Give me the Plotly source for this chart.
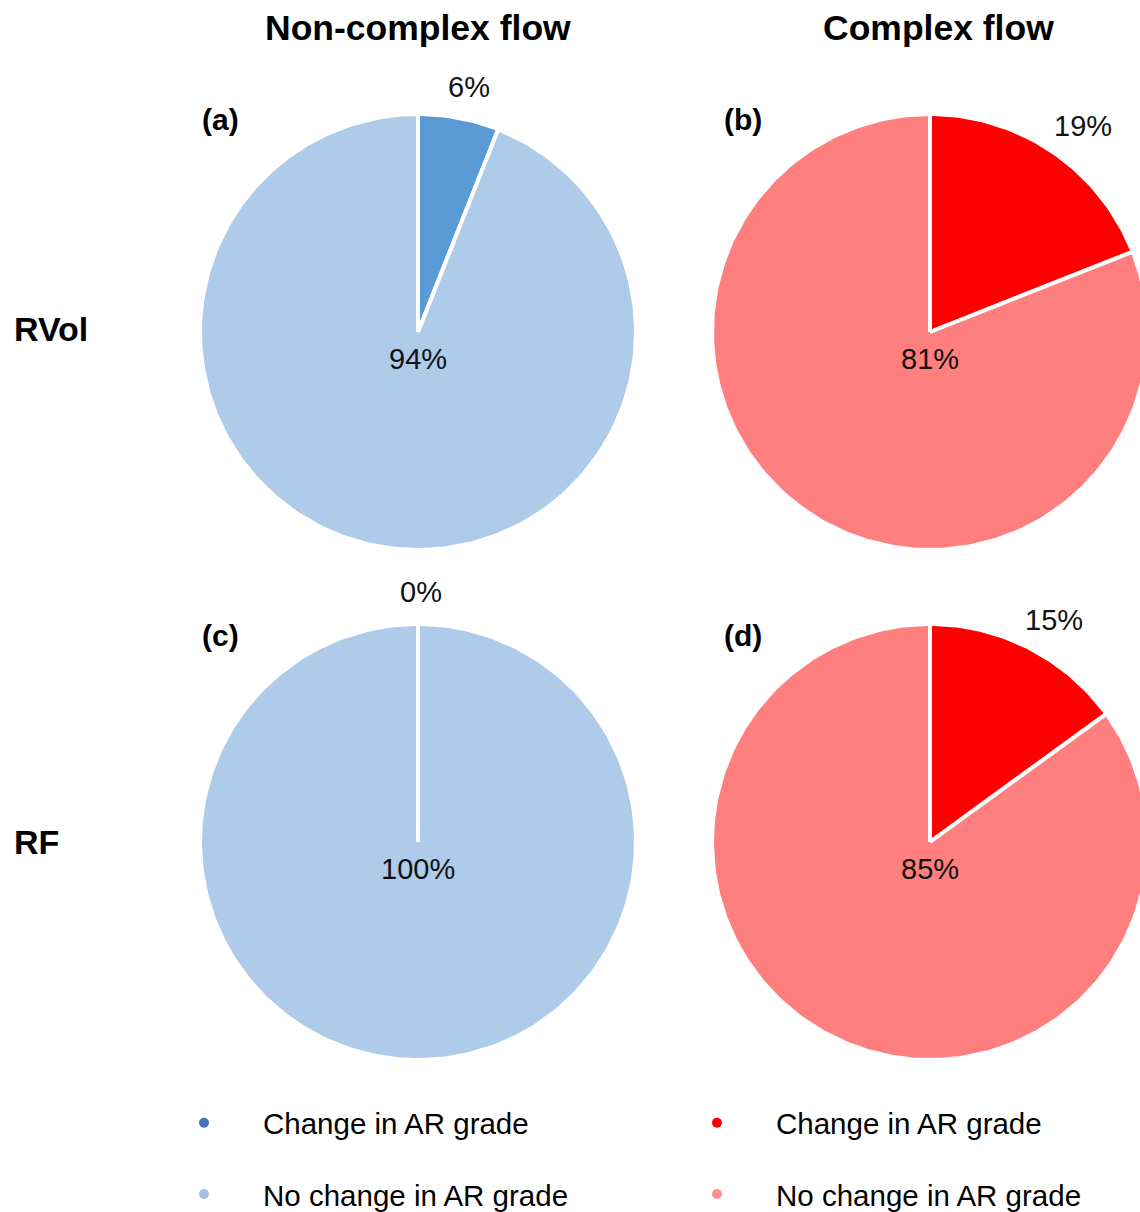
import numpy as np
import plotly.graph_objects as go

# ---- data -------------------------------------------------------------
col_titles = ["Non-complex flow", "Complex flow"]
row_titles = ["RVol", "RF"]
panel_tags = ["(a)", "(b)", "(c)", "(d)"]
categories = ["Change in AR grade", "No change in AR grade"]

# share of patients (%) per panel: [change in AR grade, no change]
rvol_noncomplex = [6, 94]
rvol_complex = [19, 81]
rf_noncomplex = [0, 100]
rf_complex = [15, 85]

# ---- styling ----------------------------------------------------------
FONT = "Arial, Liberation Sans, sans-serif"
W, H = 1140, 1212
R_PX = 216                       # axis unit in pixels
PIE_R = 1.0 + 2.0 / R_PX         # radius incl. half of the white outline
COL_X = [418, 930]               # pie centres (px from left)
ROW_Y = [332, 842]               # pie centres (px from top)
TAG_X = [220, 743]
TAG_Y = [120, 635]
slice_colors = [["#5B9BD5", "#AECBE9"], ["#FF0000", "#FF7F7F"]]
legend_colors = [["#4472C4", "#A9BDE6"], ["#FF0000", "#FF8C8C"]]
LABEL_SIZE = 29


def unit_x(px):
    return px / R_PX


def unit_y(py):
    return -py / R_PX


def text_width(s, size):
    widths = {"%": 0.889}
    return sum(widths.get(ch, 0.556) for ch in s) * size


panels = [
    (0, 0, rvol_noncomplex),
    (0, 1, rvol_complex),
    (1, 0, rf_noncomplex),
    (1, 1, rf_complex),
]

fig = go.Figure()
annotations = []

for idx, (r, c, values) in enumerate(panels):
    cx, cy = unit_x(COL_X[c]), unit_y(ROW_Y[r])
    total = float(sum(values))
    start = 0.0
    for k, v in enumerate(values):
        frac0, frac1 = start / total, (start + v) / total
        n = max(2, int(np.ceil((frac1 - frac0) * 360)) + 1)
        theta = 2 * np.pi * np.linspace(frac0, frac1, n)
        xs = np.concatenate([[cx], cx + PIE_R * np.sin(theta), [cx]])
        ys = np.concatenate([[cy], cy + PIE_R * np.cos(theta), [cy]])
        fig.add_trace(go.Scatter(
            x=xs, y=ys, mode="lines", fill="toself",
            fillcolor=slice_colors[c][k],
            line=dict(color="white", width=4),
            hoverinfo="skip", showlegend=False,
        ))

        label = f"{v}%"
        mid = 2 * np.pi * (frac0 + frac1) / 2
        if v / total < 0.5:
            # small slice: label just outside the rim along its mid-angle
            w = text_width(label, LABEL_SIZE)
            annotations.append(dict(
                x=cx + 1.1 * np.sin(mid), y=cy + 1.1 * np.cos(mid),
                xref="x", yref="y", text=label, showarrow=False,
                xanchor="center", yanchor="middle",
                xshift=w / 2 * np.sin(mid) + 3, yshift=12 * np.cos(mid),
                font=dict(family=FONT, size=LABEL_SIZE, color="#111111"),
            ))
        else:
            # dominant slice: label just below the pie centre
            annotations.append(dict(
                x=cx, y=cy, xref="x", yref="y", text=label,
                showarrow=False, xanchor="center", yanchor="middle",
                yshift=-27,
                font=dict(family=FONT, size=LABEL_SIZE, color="#111111"),
            ))
        start += v

    # panel tag
    annotations.append(dict(
        x=TAG_X[c] / W, y=1 - TAG_Y[r] / H,
        xref="paper", yref="paper", text=f"<b>{panel_tags[idx]}</b>",
        showarrow=False, xanchor="center", yanchor="middle",
        font=dict(family=FONT, size=30, color="black"),
    ))

# column titles
for c, title in enumerate(col_titles):
    annotations.append(dict(
        x=(COL_X[c] + 8 * c) / W, y=1 - 28 / H, xref="paper", yref="paper",
        text=f"<b>{title}</b>", showarrow=False,
        xanchor="center", yanchor="middle",
        font=dict(family=FONT, size=35.5, color="black"),
    ))

# row titles
for r, title in enumerate(row_titles):
    annotations.append(dict(
        x=12 / W, y=1 - (ROW_Y[r] - 3 * (1 - r)) / H, xref="paper", yref="paper",
        text=f"<b>{title}</b>", showarrow=False,
        xanchor="left", yanchor="middle",
        font=dict(family=FONT, size=34, color="black"),
    ))

# legend entries: one legend per flow type
legend_names = ["legend", "legend2"]
for c in range(2):
    for k, cat in enumerate(categories):
        fig.add_trace(go.Scatter(
            x=[None], y=[None], mode="markers", name=cat,
            marker=dict(color=legend_colors[c][k], size=10),
            legend=legend_names[c], legendgroup=f"{c}-{k}",
            showlegend=True, hoverinfo="skip",
        ))

legend_common = dict(
    yanchor="top", y=1 - 1097 / H, xanchor="left",
    font=dict(family=FONT, size=29.5, color="black"),
    itemwidth=108, tracegroupgap=30, traceorder="grouped",
    bgcolor="rgba(0,0,0,0)", borderwidth=0, itemsizing="trace",
)

fig.update_layout(
    width=W, height=H,
    margin=dict(l=0, r=0, t=0, b=0, autoexpand=False),
    paper_bgcolor="white", plot_bgcolor="white",
    xaxis=dict(range=[0, unit_x(W)], visible=False, fixedrange=True),
    yaxis=dict(range=[unit_y(H), 0], visible=False, fixedrange=True),
    annotations=annotations,
    legend=dict(x=145 / W, **legend_common),
    legend2=dict(x=658 / W, **legend_common),
    showlegend=True,
)

fig.write_html("out.html")
